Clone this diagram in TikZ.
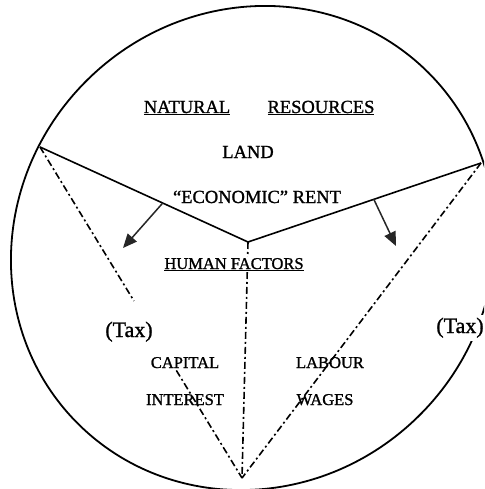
\documentclass[tikz,border=0pt]{standalone}
\usepackage{fontspec}
\setmainfont{Liberation Serif}[FakeBold=1.2]
\usetikzlibrary{calc,arrows.meta}
\tikzset{
  outline/.style={line width=1.8pt, black},
  solidline/.style={line width=1.6pt, black},
  dashdotline/.style={line width=1.6pt, black, dash pattern=on 7pt off 3pt on 2pt off 3pt},
  arrowline/.style={line width=1.5pt, black!85, -{Triangle[length=14pt,width=12pt]}},
  bigtxt/.style={anchor=base, inner sep=1pt, font=\fontsize{18.5}{20}\selectfont},
  smalltxt/.style={anchor=base, inner sep=1pt, font=\fontsize{16.5}{18}\selectfont},
  taxtxt/.style={anchor=base, inner sep=1pt, font=\fontsize{22}{24}\selectfont}
}
\begin{document}
\begin{tikzpicture}[x=1pt,y=-1pt]
\useasboundingbox (0,0) rectangle (484,489);
\clip (0,0) rectangle (484,489);
\fill[white] (0,0) rectangle (484,489);
% outer round shape (slightly oval, tilted)
\coordinate (O) at (253,248);
\draw[outline, rotate around={45:(O)}] (O) ellipse [x radius=248, y radius=236];
% vertices
\coordinate (L) at (40,147);
\coordinate (C) at (248,242);
\coordinate (R) at (481,163);
\coordinate (B) at (242,478);
\coordinate (tipl) at (123,248);
\coordinate (tipr) at (396,246);
\coordinate (gapa) at ($(L)!0.465!(B)$);
\coordinate (gapb) at ($(L)!0.675!(B)$);
% right tax label interrupting the outline
\node[taxtxt, fill=white, inner sep=3pt] (taxr) at (460,333) {(Tax)};
% solid boundary of natural resources
\draw[solidline] (L) -- (C) -- (R);
% arrows
\draw[arrowline] ($(L)!0.59!(C)$) -- (tipl);
\draw[arrowline] ($(C)!0.54!(R)$) -- (tipr);
% texts
\node[bigtxt] (nat) at (187,113) {\underline{NATURAL}};
\node[bigtxt] (res) at (321,113) {\underline{RESOURCES}};
\node[bigtxt] (land) at (248,158) {LAND};
\node[bigtxt] (rent) at (257,203) {“ECONOMIC” RENT};
\node[taxtxt] (taxl) at (129,337) {(Tax)};
\node[smalltxt] (cap) at (185,368) {CAPITAL};
\node[smalltxt] (int) at (185,405) {INTEREST};
\node[smalltxt] (lab) at (330,368) {LABOUR};
\node[smalltxt] (wag) at (325,405) {WAGES};
% dash-dot dividers
\draw[dashdotline] (C) -- (B);
\node[smalltxt, fill=white] (hum) at (234,269) {\underline{HUMAN FACTORS}};
\draw[dashdotline] (L) -- (gapa);
\draw[dashdotline] (gapb) -- (B);
\draw[dashdotline] (R) -- (B);
\end{tikzpicture}
\end{document}
